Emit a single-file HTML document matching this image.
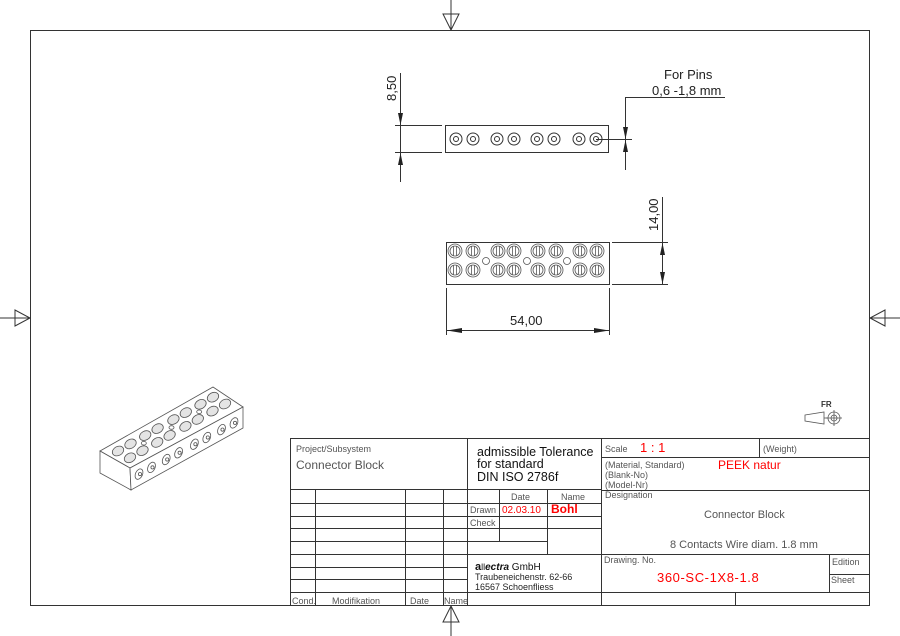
<!DOCTYPE html>
<html><head><meta charset="utf-8"><style>
html,body{margin:0;padding:0;background:#fff;}
svg{display:block;font-family:"Liberation Sans",Arial,sans-serif;}
.l{stroke:#333;stroke-width:1;fill:none;}
.t{stroke:#555;stroke-width:0.8;fill:none;}
</style></head><body>
<svg width="900" height="636" viewBox="0 0 900 636" xmlns="http://www.w3.org/2000/svg">
<rect width="900" height="636" fill="#fff"/>
<rect x="30.5" y="30.5" width="839" height="575" class="l"/>
<g class="l">
<line x1="451" y1="0" x2="451" y2="30"/><polygon points="443,14 459,14 451,30"/>
<line x1="451" y1="606" x2="451" y2="636"/><polygon points="443,622 459,622 451,606"/>
<line x1="0" y1="318" x2="30" y2="318"/><polygon points="15,310 15,326 30,318"/>
<line x1="870" y1="318" x2="900" y2="318"/><polygon points="885,310 885,326 870,318"/>
</g>

<!-- TOP VIEW -->
<rect x="445.5" y="125.5" width="163" height="27" class="l"/>
<g class="l">
<circle cx="456" cy="139" r="6"/><circle cx="456" cy="139" r="2.5"/>
<circle cx="473" cy="139" r="6"/><circle cx="473" cy="139" r="2.5"/>
<circle cx="497" cy="139" r="6"/><circle cx="497" cy="139" r="2.5"/>
<circle cx="514" cy="139" r="6"/><circle cx="514" cy="139" r="2.5"/>
<circle cx="537" cy="139" r="6"/><circle cx="537" cy="139" r="2.5"/>
<circle cx="554" cy="139" r="6"/><circle cx="554" cy="139" r="2.5"/>
<circle cx="579" cy="139" r="6"/><circle cx="579" cy="139" r="2.5"/>
<circle cx="596" cy="139" r="6"/><circle cx="596" cy="139" r="2.5"/>
<line x1="395" y1="125.5" x2="442" y2="125.5"/><line x1="395" y1="152.5" x2="442" y2="152.5"/>
<line x1="400.5" y1="73" x2="400.5" y2="182"/>
<line x1="596" y1="139.5" x2="632" y2="139.5"/>
<line x1="625.5" y1="97" x2="625.5" y2="170"/>
<line x1="625" y1="97.5" x2="725" y2="97.5"/>
</g>
<g fill="#222">
<polygon points="398,113 403,113 400.5,125"/><polygon points="398,165 403,165 400.5,153"/>
<polygon points="623,127 628,127 625.5,139"/><polygon points="623,152 628,152 625.5,140"/>
</g>
<text font-size="13" fill="#222" transform="translate(396,101) rotate(-90)">8,50</text>
<text x="664" y="79" font-size="13" fill="#222">For Pins</text>
<text x="652" y="95" font-size="13" fill="#222">0,6 -1,8 mm</text>

<!-- FRONT VIEW -->
<rect x="446.5" y="242.5" width="163" height="42" class="l"/>
<g class="t">
<circle cx="455" cy="251" r="7"/><circle cx="455" cy="251" r="5"/><line x1="453.5" y1="246" x2="453.5" y2="256"/><line x1="456.5" y1="246" x2="456.5" y2="256"/>
<circle cx="473" cy="251" r="7"/><circle cx="473" cy="251" r="5"/><line x1="471.5" y1="246" x2="471.5" y2="256"/><line x1="474.5" y1="246" x2="474.5" y2="256"/>
<circle cx="498" cy="251" r="7"/><circle cx="498" cy="251" r="5"/><line x1="496.5" y1="246" x2="496.5" y2="256"/><line x1="499.5" y1="246" x2="499.5" y2="256"/>
<circle cx="514" cy="251" r="7"/><circle cx="514" cy="251" r="5"/><line x1="512.5" y1="246" x2="512.5" y2="256"/><line x1="515.5" y1="246" x2="515.5" y2="256"/>
<circle cx="538" cy="251" r="7"/><circle cx="538" cy="251" r="5"/><line x1="536.5" y1="246" x2="536.5" y2="256"/><line x1="539.5" y1="246" x2="539.5" y2="256"/>
<circle cx="556" cy="251" r="7"/><circle cx="556" cy="251" r="5"/><line x1="554.5" y1="246" x2="554.5" y2="256"/><line x1="557.5" y1="246" x2="557.5" y2="256"/>
<circle cx="580" cy="251" r="7"/><circle cx="580" cy="251" r="5"/><line x1="578.5" y1="246" x2="578.5" y2="256"/><line x1="581.5" y1="246" x2="581.5" y2="256"/>
<circle cx="597" cy="251" r="7"/><circle cx="597" cy="251" r="5"/><line x1="595.5" y1="246" x2="595.5" y2="256"/><line x1="598.5" y1="246" x2="598.5" y2="256"/>
<circle cx="455" cy="270" r="7"/><circle cx="455" cy="270" r="5"/><line x1="453.5" y1="265" x2="453.5" y2="275"/><line x1="456.5" y1="265" x2="456.5" y2="275"/>
<circle cx="473" cy="270" r="7"/><circle cx="473" cy="270" r="5"/><line x1="471.5" y1="265" x2="471.5" y2="275"/><line x1="474.5" y1="265" x2="474.5" y2="275"/>
<circle cx="498" cy="270" r="7"/><circle cx="498" cy="270" r="5"/><line x1="496.5" y1="265" x2="496.5" y2="275"/><line x1="499.5" y1="265" x2="499.5" y2="275"/>
<circle cx="514" cy="270" r="7"/><circle cx="514" cy="270" r="5"/><line x1="512.5" y1="265" x2="512.5" y2="275"/><line x1="515.5" y1="265" x2="515.5" y2="275"/>
<circle cx="538" cy="270" r="7"/><circle cx="538" cy="270" r="5"/><line x1="536.5" y1="265" x2="536.5" y2="275"/><line x1="539.5" y1="265" x2="539.5" y2="275"/>
<circle cx="556" cy="270" r="7"/><circle cx="556" cy="270" r="5"/><line x1="554.5" y1="265" x2="554.5" y2="275"/><line x1="557.5" y1="265" x2="557.5" y2="275"/>
<circle cx="580" cy="270" r="7"/><circle cx="580" cy="270" r="5"/><line x1="578.5" y1="265" x2="578.5" y2="275"/><line x1="581.5" y1="265" x2="581.5" y2="275"/>
<circle cx="597" cy="270" r="7"/><circle cx="597" cy="270" r="5"/><line x1="595.5" y1="265" x2="595.5" y2="275"/><line x1="598.5" y1="265" x2="598.5" y2="275"/>
<circle cx="486" cy="261" r="3.5"/><circle cx="527" cy="261" r="3.5"/><circle cx="567" cy="261" r="3.5"/>
</g>
<g class="l">
<line x1="612" y1="242.5" x2="668" y2="242.5"/><line x1="612" y1="284.5" x2="668" y2="284.5"/>
<line x1="662.5" y1="197" x2="662.5" y2="284"/>
<line x1="446.5" y1="288" x2="446.5" y2="335"/><line x1="609.5" y1="288" x2="609.5" y2="335"/>
<line x1="446" y1="330.5" x2="609" y2="330.5"/>
</g>
<g fill="#222">
<polygon points="660,255 665,255 662.5,243"/><polygon points="660,272 665,272 662.5,284"/>
<polygon points="447,330.5 462,328 462,333"/><polygon points="609,330.5 594,328 594,333"/>
</g>
<text font-size="13" fill="#222" transform="translate(658,231) rotate(-90)">14,00</text>
<text x="510" y="325" font-size="13" fill="#222">54,00</text>

<!-- ISOMETRIC -->
<g class="t" stroke="#444">
<polygon points="100,451 213,387 243,407 130,468" fill="#fff"/>
<polygon points="100,451 130,468 131,490 100,473" fill="#fff"/>
<polygon points="130,468 243,407 243,428 131,490" fill="#fff"/>
<g fill="#e4e4e4">
<ellipse cx="118" cy="451" rx="6" ry="4.5" transform="rotate(-29 118 451)"/>
<ellipse cx="130.5" cy="443.9" rx="6" ry="4.5" transform="rotate(-29 130.5 443.9)"/>
<ellipse cx="145.2" cy="435.6" rx="6" ry="4.5" transform="rotate(-29 145.2 435.6)"/>
<ellipse cx="157.6" cy="428.6" rx="6" ry="4.5" transform="rotate(-29 157.6 428.6)"/>
<ellipse cx="173.4" cy="419.6" rx="6" ry="4.5" transform="rotate(-29 173.4 419.6)"/>
<ellipse cx="185.8" cy="412.6" rx="6" ry="4.5" transform="rotate(-29 185.8 412.6)"/>
<ellipse cx="200.5" cy="404.3" rx="6" ry="4.5" transform="rotate(-29 200.5 404.3)"/>
<ellipse cx="213" cy="397.2" rx="6" ry="4.5" transform="rotate(-29 213 397.2)"/>
<ellipse cx="130" cy="457.8" rx="6" ry="4.5" transform="rotate(-29 130 457.8)"/>
<ellipse cx="142.5" cy="450.7" rx="6" ry="4.5" transform="rotate(-29 142.5 450.7)"/>
<ellipse cx="157.2" cy="442.4" rx="6" ry="4.5" transform="rotate(-29 157.2 442.4)"/>
<ellipse cx="169.6" cy="435.4" rx="6" ry="4.5" transform="rotate(-29 169.6 435.4)"/>
<ellipse cx="185.4" cy="426.4" rx="6" ry="4.5" transform="rotate(-29 185.4 426.4)"/>
<ellipse cx="197.8" cy="419.4" rx="6" ry="4.5" transform="rotate(-29 197.8 419.4)"/>
<ellipse cx="212.5" cy="411.1" rx="6" ry="4.5" transform="rotate(-29 212.5 411.1)"/>
<ellipse cx="225" cy="404" rx="6" ry="4.5" transform="rotate(-29 225 404)"/>
</g>
<ellipse cx="143.8" cy="443.2" rx="2.5" ry="1.8"/><ellipse cx="171.5" cy="427.5" rx="2.5" ry="1.8"/><ellipse cx="199.2" cy="411.8" rx="2.5" ry="1.8"/>
<g>
<ellipse cx="139" cy="474.1" rx="3.5" ry="5.5" transform="rotate(25 139 474.1)"/>
<ellipse cx="151.5" cy="467.4" rx="3.5" ry="5.5" transform="rotate(25 151.5 467.4)"/>
<ellipse cx="166.2" cy="459.5" rx="3.5" ry="5.5" transform="rotate(25 166.2 459.5)"/>
<ellipse cx="178.6" cy="452.8" rx="3.5" ry="5.5" transform="rotate(25 178.6 452.8)"/>
<ellipse cx="194.4" cy="444.2" rx="3.5" ry="5.5" transform="rotate(25 194.4 444.2)"/>
<ellipse cx="206.8" cy="437.5" rx="3.5" ry="5.5" transform="rotate(25 206.8 437.5)"/>
<ellipse cx="221.5" cy="429.6" rx="3.5" ry="5.5" transform="rotate(25 221.5 429.6)"/>
<ellipse cx="234" cy="422.9" rx="3.5" ry="5.5" transform="rotate(25 234 422.9)"/>
<circle cx="140" cy="474.1" r="1.6"/><circle cx="152.5" cy="467.4" r="1.6"/><circle cx="167.2" cy="459.5" r="1.6"/><circle cx="179.6" cy="452.8" r="1.6"/>
<circle cx="195.4" cy="444.2" r="1.6"/><circle cx="207.8" cy="437.5" r="1.6"/><circle cx="222.5" cy="429.6" r="1.6"/><circle cx="235" cy="422.9" r="1.6"/>
</g>
</g>

<!-- FR symbol -->
<g class="t" stroke="#333">
<polygon points="805,415 824,412 824,424 805,421"/>
<line x1="824" y1="418" x2="828" y2="418"/>
<circle cx="834" cy="418" r="6"/><circle cx="834" cy="418" r="3"/>
<line x1="826" y1="418" x2="842" y2="418"/><line x1="834" y1="410" x2="834" y2="426"/>
</g>
<text x="821" y="407" font-size="8" font-weight="bold" fill="#333">FR</text>

<!-- TITLE BLOCK -->
<g class="l" stroke="#444">
<line x1="290" y1="438.5" x2="869" y2="438.5"/>
<line x1="290.5" y1="438" x2="290.5" y2="605"/>
<line x1="467.5" y1="438" x2="467.5" y2="605"/>
<line x1="601.5" y1="438" x2="601.5" y2="605"/>
<line x1="290" y1="489.5" x2="601" y2="489.5"/>
<line x1="315.5" y1="489" x2="315.5" y2="605"/>
<line x1="405.5" y1="489" x2="405.5" y2="605"/>
<line x1="443.5" y1="489" x2="443.5" y2="605"/>
<line x1="290" y1="503.5" x2="601" y2="503.5"/>
<line x1="290" y1="516.5" x2="601" y2="516.5"/>
<line x1="290" y1="528.5" x2="601" y2="528.5"/>
<line x1="290" y1="541.5" x2="548" y2="541.5"/>
<line x1="290" y1="554.5" x2="601" y2="554.5"/>
<line x1="290" y1="567.5" x2="467" y2="567.5"/>
<line x1="290" y1="579.5" x2="467" y2="579.5"/>
<line x1="290" y1="592.5" x2="869" y2="592.5"/>
<line x1="499.5" y1="489" x2="499.5" y2="541"/>
<line x1="547.5" y1="489" x2="547.5" y2="554"/>
<line x1="601" y1="457.5" x2="869" y2="457.5"/>
<line x1="759.5" y1="438" x2="759.5" y2="457"/>
<line x1="601" y1="490.5" x2="869" y2="490.5"/>
<line x1="601" y1="554.5" x2="869" y2="554.5"/>
<line x1="829.5" y1="554" x2="829.5" y2="592"/>
<line x1="829" y1="574.5" x2="869" y2="574.5"/>
<line x1="735.5" y1="592" x2="735.5" y2="605"/>
</g>
<g fill="#555" font-size="9">
<text x="296" y="452">Project/Subsystem</text>
<text x="470" y="513">Drawn</text>
<text x="470" y="526">Check</text>
<text x="511" y="500">Date</text>
<text x="561" y="500">Name</text>
<text x="292" y="604">Cond.</text>
<text x="332" y="604">Modifikation</text>
<text x="410" y="604">Date</text>
<text x="444" y="604">Name</text>
<text x="605" y="452">Scale</text>
<text x="763" y="452">(Weight)</text>
<text x="605" y="468">(Material, Standard)</text>
<text x="605" y="478">(Blank-No)</text>
<text x="605" y="488">(Model-Nr)</text>
<text x="605" y="498">Designation</text>
<text x="604" y="563">Drawing. No.</text>
<text x="832" y="565">Edition</text>
<text x="831" y="583">Sheet</text>
</g>
<text x="296" y="469" font-size="12" fill="#555">Connector Block</text>
<g font-size="12.5" fill="#111">
<text x="477" y="456">admissible Tolerance</text>
<text x="477" y="468">for standard</text>
<text x="477" y="481">DIN ISO 2786f</text>
</g>
<text x="502" y="513" font-size="10" fill="#f00">02.03.10</text>
<text x="551" y="513" font-size="12" font-weight="bold" fill="#f00">Bohl</text>
<text x="640" y="452" font-size="13" fill="#f00">1 : 1</text>
<text x="718" y="469" font-size="12" fill="#f00">PEEK natur</text>
<text x="704" y="518" font-size="11" fill="#555">Connector Block</text>
<text x="670" y="548" font-size="11" fill="#555">8 Contacts Wire diam. 1.8 mm</text>
<text x="657" y="582" font-size="13" fill="#f00" letter-spacing="0.6">360-SC-1X8-1.8</text>
<text x="475" y="570" font-size="10" fill="#111"><tspan font-weight="bold" font-size="11">a</tspan><tspan font-size="9">ll</tspan><tspan font-weight="bold" font-style="italic" font-size="10">ectra</tspan> GmbH</text>
<text x="475" y="580" font-size="9" fill="#222">Traubeneichenstr. 62-66</text>
<text x="475" y="590" font-size="9" fill="#222">16567 Schoenfliess</text>
</svg>
</body></html>
